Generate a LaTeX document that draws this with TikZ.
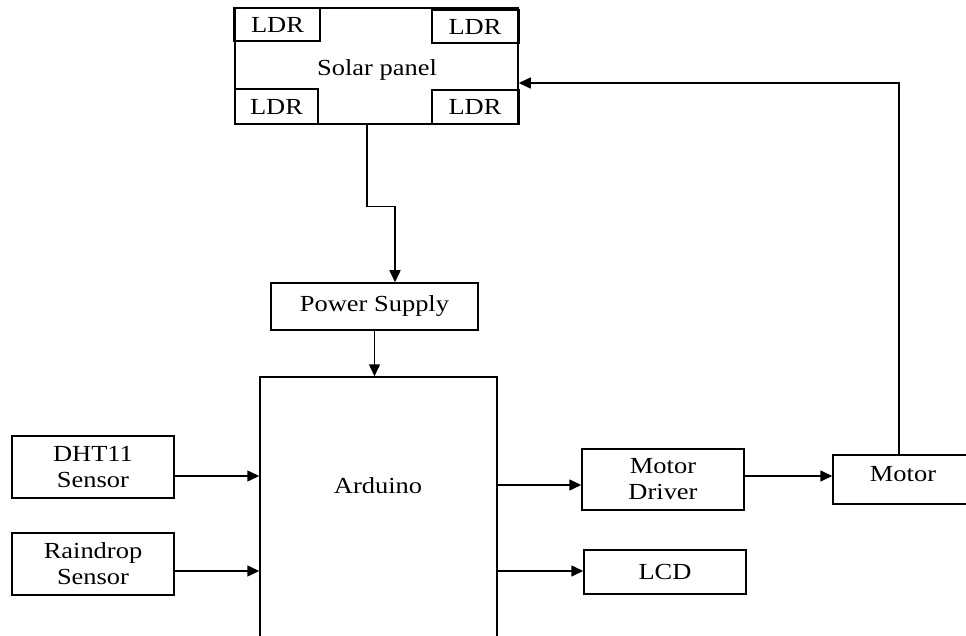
\documentclass[tikz,border=0pt]{standalone}
\usepackage{fontspec}
\setmainfont{Liberation Serif}[FakeStretch=1.15]
\usetikzlibrary{arrows.meta}
\begin{document}
\begin{tikzpicture}[x=1pt,y=-1pt,
  box/.style={draw,line width=1.5pt,inner sep=0pt,align=center,
    font=\fontsize{23}{26}\selectfont},
  txt/.style={inner sep=0pt,align=center,font=\fontsize{23}{26}\selectfont},
  arr/.style={line width=1.5pt,-{Triangle[length=12pt,width=11pt]}}]
\useasboundingbox (0,0) rectangle (966,636);
\clip (0,0) rectangle (966,636);
\fill[white] (0,0) rectangle (966,636);
% solar panel
\node[box,minimum width=283pt,minimum height=116pt] (solar) at (376.5,66) {};
\node[txt] (solartxt) at (377,70) {Solar panel};
\node[box,minimum width=85pt,minimum height=33pt] (ldr1) at (277.5,24.5) {LDR};
\node[box,minimum width=86pt,minimum height=33pt] (ldr2) at (475,26.5) {LDR};
\node[box,minimum width=83pt,minimum height=35pt] (ldr3) at (276.5,106.5) {LDR};
\node[box,minimum width=86pt,minimum height=34pt] (ldr4) at (475,107) {LDR};
\draw[line width=3pt] (ldr1.north west) -- (ldr1.south west);
\draw[line width=3pt] (ldr2.north east) -- (ldr2.south east);
\draw[line width=3pt] (ldr4.north east) -- (ldr4.south east);
% power supply
\node[box,minimum width=207pt,minimum height=47pt] (power) at (374.5,306.5) {Power Supply};
% arduino
\node[box,minimum width=237pt,minimum height=323pt] (ard) at (378.5,538.5) {};
\node[txt] (ardtxt) at (378,486) {Arduino};
% sensors
\node[box,minimum width=162pt,minimum height=62pt] (dht) at (93,467) {DHT11\\Sensor};
\node[box,minimum width=162pt,minimum height=62pt] (rain) at (93,564) {Raindrop\\Sensor};
% outputs
\node[box,minimum width=162pt,minimum height=61pt] (md) at (663,479.5) {Motor\\Driver};
\node[box,minimum width=162pt,minimum height=44pt] (lcd) at (665,572) {LCD};
\node[box,minimum width=167pt,minimum height=49pt] (motor) at (916.5,479.5) {};
\node[txt] (motortxt) at (903,474) {Motor};
% connector end points
\coordinate (sp) at ([xshift=-9.5pt]solar.south);
\coordinate (pp) at ([xshift=20.5pt]power.north);
\coordinate (d1) at ([yshift=-9pt]dht.east);
\coordinate (r1) at ([yshift=-7pt]rain.east);
\coordinate (m1) at ([yshift=-5.5pt]md.west);
\coordinate (l1) at ([yshift=1pt]lcd.west);
\coordinate (m2) at ([yshift=3.5pt]md.east);
\coordinate (mt) at ([xshift=-17.5pt]motor.north);
\coordinate (se) at ([yshift=-17pt]solar.east);
% connectors
\draw[arr] (sp) -- ++(0,82) -| (pp);
\draw[arr] (power.south) -- (power.south |- ard.north);
\draw[arr] (d1) -- (ard.west |- d1);
\draw[arr] (r1) -- (ard.west |- r1);
\draw[arr] (ard.east |- m1) -- (m1);
\draw[arr] (ard.east |- l1) -- (l1);
\draw[arr] (m2) -- (motor.west |- m2);
\draw[arr] (mt) |- (se);
\end{tikzpicture}
\end{document}
